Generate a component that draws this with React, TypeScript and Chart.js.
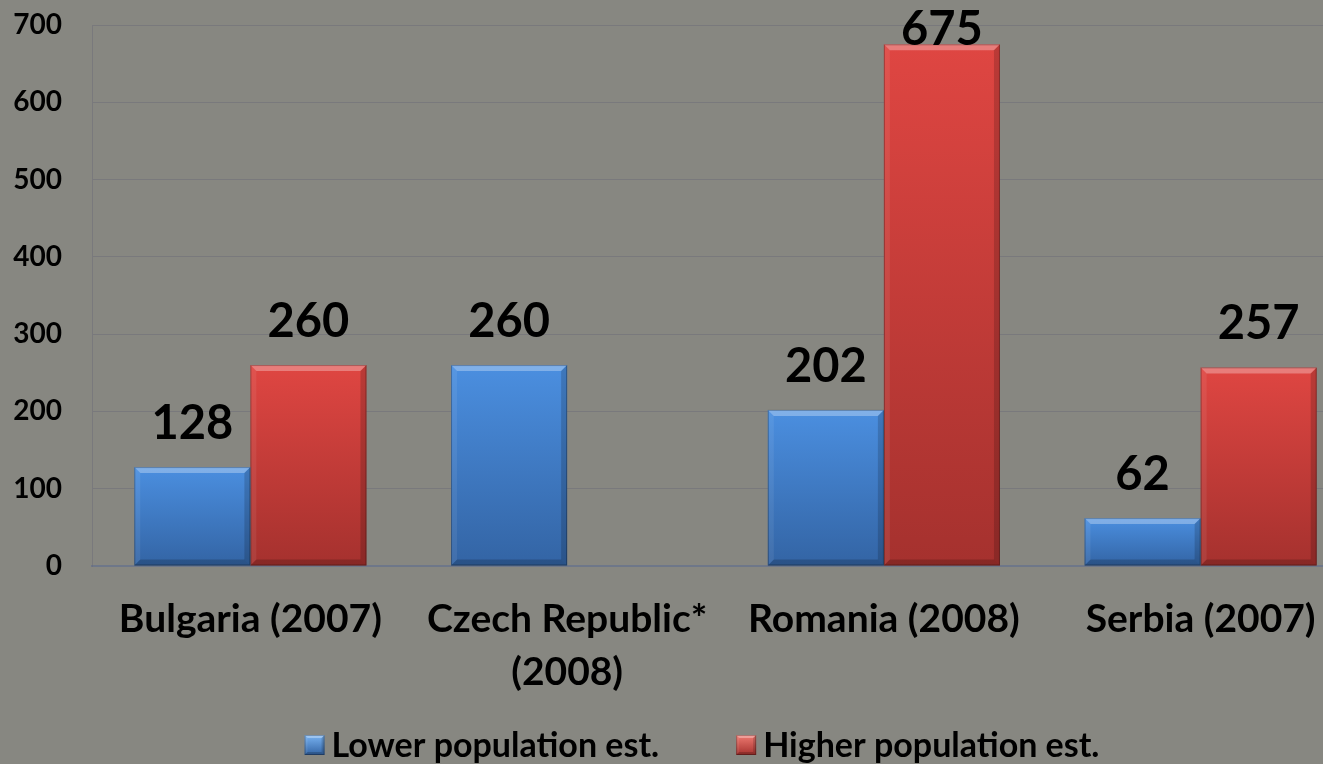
import React, { useEffect, useRef } from 'react';
import { Chart, registerables } from 'chart.js';

Chart.register(...registerables);

// ---- data ----
const categories: (string | string[])[] = [
  'Bulgaria (2007)',
  ['Czech Republic*', '(2008)'],
  'Romania (2008)',
  'Serbia (2007)',
];
const lowerValues: (number | null)[] = [128, 260, 202, 62];
const higherValues: (number | null)[] = [260, null, 675, 257];
const seriesNames = ['Lower population est.', 'Higher population est.'];
const yMin = 0;
const yMax = 700;
const yStep = 100;

// ---- style ----
const FONT = 'Lato, "Open Sans", "DejaVu Sans", sans-serif';
const BG = '#878781';
const GRID = 'rgba(105,105,118,0.45)';
const palettes = [
  { top: '#4b8fe0', bottom: '#3364a4', light: '#79b3f2' },
  { top: '#df4642', bottom: '#a5312e', light: '#ef7b72' },
];

function barGradient(ctx: any, idx: number) {
  const chart = ctx.chart;
  const pal = palettes[idx];
  const { chartArea, scales } = chart;
  if (!chartArea || ctx.type !== 'data' || ctx.raw == null) return pal.top;
  const y0 = scales.y.getPixelForValue(0);
  const y1 = scales.y.getPixelForValue(ctx.raw as number);
  const g = chart.ctx.createLinearGradient(0, y1, 0, y0 + 0.001);
  g.addColorStop(0, pal.top);
  g.addColorStop(1, pal.bottom);
  return g;
}

function drawBevelBox(ctx: CanvasRenderingContext2D, l: number, t: number, r: number, b: number, e: number) {
  ctx.save();
  ctx.fillStyle = 'rgba(255,255,255,0.30)';
  ctx.beginPath();
  ctx.moveTo(l, t); ctx.lineTo(r, t); ctx.lineTo(r - e, t + e); ctx.lineTo(l + e, t + e); ctx.closePath();
  ctx.fill();
  ctx.fillStyle = 'rgba(255,255,255,0.07)';
  ctx.beginPath();
  ctx.moveTo(l, t); ctx.lineTo(l + e, t + e); ctx.lineTo(l + e, b - e); ctx.lineTo(l, b); ctx.closePath();
  ctx.fill();
  ctx.fillStyle = 'rgba(0,0,0,0.16)';
  ctx.beginPath();
  ctx.moveTo(r, t); ctx.lineTo(r - e, t + e); ctx.lineTo(r - e, b - e); ctx.lineTo(r, b); ctx.closePath();
  ctx.fill();
  ctx.fillStyle = 'rgba(0,0,0,0.18)';
  ctx.beginPath();
  ctx.moveTo(l, b); ctx.lineTo(l + e, b - e); ctx.lineTo(r - e, b - e); ctx.lineTo(r, b); ctx.closePath();
  ctx.fill();
  ctx.strokeStyle = 'rgba(0,0,0,0.28)';
  ctx.lineWidth = 1;
  ctx.strokeRect(l + 0.5, t + 0.5, r - l - 1, b - t - 1);
  ctx.restore();
}

const barDecor = {
  id: 'barDecor',
  afterDatasetsDraw(chart: any) {
    const ctx: CanvasRenderingContext2D = chart.ctx;
    const minBaseline = chart.chartArea.top + 20;
    chart.data.datasets.forEach((ds: any, di: number) => {
      const meta = chart.getDatasetMeta(di);
      meta.data.forEach((el: any, i: number) => {
        const v = ds.data[i];
        if (v == null) return;
        const { x, y, base, width } = el.getProps(['x', 'y', 'base', 'width'], true);
        const l = x - width / 2, r = x + width / 2;
        const e = Math.min(6, (base - y) / 2);
        drawBevelBox(ctx, l, y, r, base, e);
        ctx.save();
        ctx.font = `bold 47px ${FONT}`;
        ctx.fillStyle = '#000';
        ctx.textAlign = 'center';
        ctx.textBaseline = 'alphabetic';
        ctx.fillText(String(v), x, Math.max(y - 28, minBaseline));
        ctx.restore();
      });
    });
  },
};

const customLegend = {
  id: 'customLegend',
  afterDraw(chart: any) {
    const ctx: CanvasRenderingContext2D = chart.ctx;
    ctx.save();
    ctx.font = `bold 34px ${FONT}`;
    const box = 20, gap = 7, itemGap = 77;
    const widths = seriesNames.map((n) => ctx.measureText(n).width);
    const total = widths.reduce((a, w) => a + box + gap + w, 0) + itemGap * (seriesNames.length - 1);
    let x = chart.width / 2 - total / 2;
    const cy = 745;
    seriesNames.forEach((name, i) => {
      const pal = palettes[i];
      const g = ctx.createLinearGradient(0, cy - box / 2, 0, cy + box / 2);
      g.addColorStop(0, pal.light);
      g.addColorStop(1, pal.bottom);
      ctx.fillStyle = g;
      ctx.fillRect(x, cy - box / 2, box, box);
      drawBevelBox(ctx, x, cy - box / 2, x + box, cy + box / 2, 3);
      ctx.font = `bold 34px ${FONT}`;
      ctx.fillStyle = '#000';
      ctx.textAlign = 'left';
      ctx.textBaseline = 'middle';
      ctx.fillText(name, x + box + gap, cy + 1);
      x += box + gap + widths[i] + itemGap;
    });
    ctx.restore();
  },
};

export default function App() {
  const ref = useRef<HTMLCanvasElement | null>(null);
  useEffect(() => {
    if (!ref.current) return;
    const chart = new Chart(ref.current, {
      type: 'bar',
      data: {
        labels: categories as any,
        datasets: [
          {
            label: seriesNames[0],
            data: lowerValues,
            backgroundColor: (c: any) => barGradient(c, 0),
            borderWidth: 0,
            categoryPercentage: 0.733,
            barPercentage: 1,
          },
          {
            label: seriesNames[1],
            data: higherValues,
            backgroundColor: (c: any) => barGradient(c, 1),
            borderWidth: 0,
            categoryPercentage: 0.733,
            barPercentage: 1,
          },
        ],
      },
      options: {
        responsive: false,
        animation: false,
        devicePixelRatio: 1,
        layout: { padding: { top: 25, right: 45, left: 0, bottom: 0 } },
        plugins: {
          legend: { display: false },
          tooltip: { enabled: false },
        },
        scales: {
          x: {
            grid: { display: false, drawTicks: false },
            border: { display: true, color: '#6e7789', width: 2 },
            ticks: {
              color: '#000',
              font: { family: FONT, size: 39, weight: 'bold', lineHeight: 1.36 },
              padding: 27,
              maxRotation: 0,
              autoSkip: false,
            },
            afterFit: (s: any) => { s.height = 198; },
          },
          y: {
            min: yMin,
            max: yMax,
            ticks: {
              stepSize: yStep,
              color: '#000',
              font: { family: FONT, size: 28, weight: 'bold' },
              padding: 30,
            },
            grid: { color: GRID, drawTicks: false, lineWidth: 1 },
            border: { display: true, color: GRID },
            afterFit: (s: any) => { s.width = 92; s.paddingTop = 0; },
          },
        },
      },
      plugins: [barDecor, customLegend],
    });
    return () => chart.destroy();
  }, []);
  return (
    <div
      style={{
        position: 'fixed',
        left: 0,
        top: 0,
        width: 1323,
        height: 764,
        overflow: 'hidden',
        background: BG,
      }}
    >
      <canvas ref={ref} width={1404} height={764} style={{ display: 'block' }} />
    </div>
  );
}
